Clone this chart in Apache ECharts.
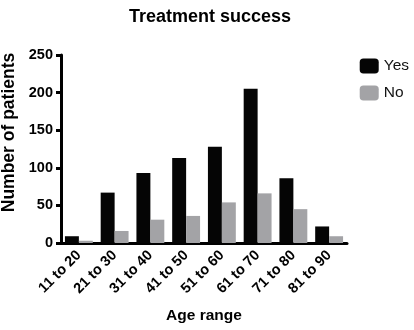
<!DOCTYPE html>
<html><head><meta charset="utf-8">
<script src="https://cdn.jsdelivr.net/npm/echarts@6/dist/echarts.min.js"></script>
<style>html,body{margin:0;padding:0;background:#fff}#c{width:414px;height:330px}</style>
</head><body><div id="c"></div>
<script>
const categories = ['11 to 20','21 to 30','31 to 40','41 to 50','51 to 60','61 to 70','71 to 80','81 to 90'];
const yesValues = [9, 67, 93, 113, 128, 205, 86, 22];
const noValues = [3, 16, 31, 36, 54, 66, 45, 9];
const yTicks = [0, 50, 100, 150, 200, 250];

const font = 'Liberation Sans, Arial, Helvetica, sans-serif';
const chart = echarts.init(document.getElementById('c'));
chart.setOption({
  animation: false,
  textStyle: {fontFamily: font},
  title: {text: 'Treatment success', left: 205, top: 3, textAlign: 'center',
    textStyle: {fontFamily: font, fontSize: 18, fontWeight: 'bold', color: '#000'}},
  legend: {right: 0, top: 53, orient: 'vertical', itemWidth: 19, itemHeight: 15, itemGap: 11,
    textStyle: {fontFamily: font, fontSize: 15.5, color: '#111'},
    data: ['Yes', 'No']},
  grid: {left: 61, right: 67, top: 55, bottom: 87, containLabel: false, outerBoundsMode: 'none'},
  xAxis: {type: 'category', data: categories,
    name: 'Age range', nameLocation: 'middle', nameGap: 65,
    nameTextStyle: {fontFamily: font, fontSize: 15.5, fontWeight: 'bold', color: '#000'},
    axisLine: {lineStyle: {color: '#000', width: 3}},
    axisTick: {alignWithLabel: true, length: 6, lineStyle: {color: '#000', width: 3}},
    axisLabel: {rotate: 45, fontFamily: font, fontSize: 14.5, fontWeight: 'bold', color: '#000', margin: 10}},
  yAxis: {type: 'value', min: yTicks[0], max: yTicks[yTicks.length-1], interval: 50,
    name: 'Number of patients', nameLocation: 'middle', nameGap: 36,
    nameTextStyle: {fontFamily: font, fontSize: 17.5, fontWeight: 'bold', color: '#000', padding: [0, 0, 0, 33]},
    axisLine: {show: true, lineStyle: {color: '#000', width: 3}},
    axisTick: {show: true, length: 5, lineStyle: {color: '#000', width: 3}},
    splitLine: {show: false},
    axisLabel: {fontFamily: font, fontSize: 14.5, fontWeight: 'bold', color: '#000', margin: 8}},
  series: [
    {name: 'Yes', type: 'bar', data: yesValues, barGap: '0%', barCategoryGap: '22%',
      itemStyle: {color: '#050505'}},
    {name: 'No', type: 'bar', data: noValues,
      itemStyle: {color: '#a3a3a6'}}
  ]
});
</script></body></html>
